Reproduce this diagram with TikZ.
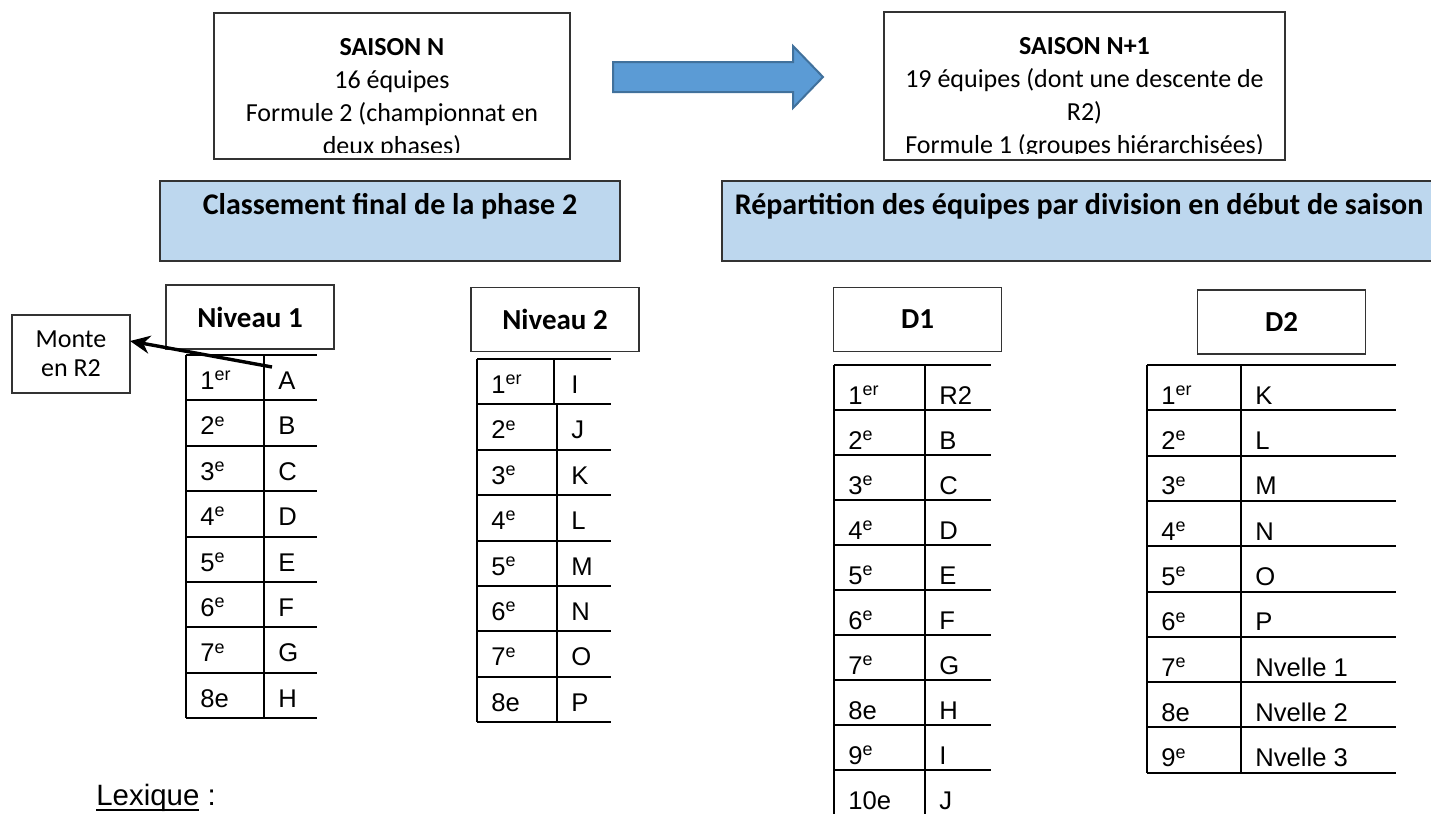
\documentclass[tikz,border=0pt]{standalone}
\usepackage{fontspec}
\setmainfont{Carlito}
\newfontfamily\arialfont{Liberation Sans}
\usepackage{xcolor}
\usetikzlibrary{positioning,calc,arrows.meta}

\definecolor{bandblue}{HTML}{BDD7EE}
\definecolor{arrowfill}{HTML}{5B9BD5}
\definecolor{arrowline}{HTML}{41719C}

\begin{document}
\begin{tikzpicture}[
    x=0.5pt, y=-0.5pt,
    infobox/.style={rectangle, draw=black!80, line width=0.7pt, inner sep=0pt},
    boxtext/.style={align=center, inner sep=0pt, font=\fontsize{13}{16.5}\selectfont},
    band/.style={rectangle, draw=black!80, fill=bandblue, line width=0.7pt, minimum height=40pt,
        inner ysep=0pt, text height=16.5pt, text depth=23.5pt, font=\bfseries\fontsize{15}{17}\selectfont},
    headbox/.style={rectangle, draw=black!80, line width=0.7pt, minimum width=84pt, minimum height=32pt,
        font=\bfseries\fontsize{14.5}{17}\selectfont},
    cell/.style={anchor=base west, inner sep=0pt, font=\arialfont\fontsize{12.8}{15}\selectfont},
    grid/.style={line width=1pt, black},
    arrow/.style={-{Stealth[length=10pt, width=9pt]}, line width=1.7pt}
]
    \useasboundingbox (0,0) rectangle (1431,814);

    % season boxes
    \node[infobox, minimum width=178pt, minimum height=73pt] (saisonN) at (392,86) {};
    \node[infobox, minimum width=200.5pt, minimum height=74pt] (saisonNext) at (1084.5,86) {};
    \begin{scope}
        \clip ($(saisonN.south west)+(0,-7)$) rectangle (saisonN.north east);
        \node[boxtext, below=13pt of saisonN.north] (saisonNtxt)
            {\textbf{SAISON N}\\16 équipes\\Formule 2 (championnat en\\deux phases)};
    \end{scope}
    \begin{scope}
        \clip ($(saisonNext.south west)+(0,-7)$) rectangle (saisonNext.north east);
        \node[boxtext, below=13pt of saisonNext.north] (saisonNexttxt)
            {\textbf{SAISON N+1}\\19 équipes (dont une descente de\\R2)\\Formule 1 (groupes hiérarchisées)};
    \end{scope}
    \draw[fill=arrowfill, draw=arrowline, line width=1pt]
        (613,62) -- (793,62) -- (793,46) -- (823,77) -- (793,108) -- (793,92) -- (613,92) -- cycle;

    % bands
    \node[band, minimum width=230pt] (bandClass) at (390,221) {Classement final de la phase 2};
    \node[band, minimum width=357pt] (bandRepart) at (1079,221) {Répartition des équipes par division en début de saison};

    % headers
    \node[headbox] (niv1) at (250,317) {Niveau 1};
    \node[headbox] (niv2) at (555,319.5) {Niveau 2};
    \node[headbox] (divOne) at (917.5,319.5) {D1};
    \node[headbox] (divTwo) at (1281.5,322) {D2};

    % Niveau 1
    \foreach \i in {0,...,8}
        \draw[grid] (186,{355+45.4*\i}) -- (317,{355+45.4*\i});
    \draw[grid] (186,355) -- (186,718) (264,355) -- (264,718);
    \foreach \r/\t [count=\i] in {{1\textsuperscript{er}}/A, {2\textsuperscript{e}}/B, {3\textsuperscript{e}}/C,
        {4\textsuperscript{e}}/D, {5\textsuperscript{e}}/E, {6\textsuperscript{e}}/F, {7\textsuperscript{e}}/G, 8e/H} {
        \node[cell] (n1r\i) at (200,{355+45.4*\i-11}) {\r};
        \node[cell] (n1t\i) at (278,{355+45.4*\i-11}) {\t};
    }

    % Niveau 2
    \foreach \i in {0,...,8}
        \draw[grid] (477,{359+45.4*\i}) -- (611,{359+45.4*\i});
    \draw[grid] (477,359) -- (477,722) (554,359) -- (554,404.4) (557,404.4) -- (557,722);
    \foreach \r/\t [count=\i] in {{1\textsuperscript{er}}/I, {2\textsuperscript{e}}/J, {3\textsuperscript{e}}/K,
        {4\textsuperscript{e}}/L, {5\textsuperscript{e}}/M, {6\textsuperscript{e}}/N, {7\textsuperscript{e}}/O, 8e/P} {
        \node[cell] (n2r\i) at (491,{359+45.4*\i-11}) {\r};
        \node[cell] (n2t\i) at (571,{359+45.4*\i-11}) {\t};
    }

    % D1
    \foreach \i in {0,...,9}
        \draw[grid] (834,{365+45*\i}) -- (991,{365+45*\i});
    \draw[grid] (834,365) -- (834,820) (925,365) -- (925,820);
    \foreach \r/\t [count=\i] in {{1\textsuperscript{er}}/R2, {2\textsuperscript{e}}/B, {3\textsuperscript{e}}/C,
        {4\textsuperscript{e}}/D, {5\textsuperscript{e}}/E, {6\textsuperscript{e}}/F, {7\textsuperscript{e}}/G, 8e/H,
        {9\textsuperscript{e}}/I, 10e/J} {
        \node[cell] (d1r\i) at (848,{365+45*\i-6}) {\r};
        \node[cell] (d1t\i) at (939,{365+45*\i-6}) {\t};
    }

    % D2
    \foreach \i in {0,...,9}
        \draw[grid] (1147,{365+45.3*\i}) -- (1396,{365+45.3*\i});
    \draw[grid] (1147,365) -- (1147,773) (1241,365) -- (1241,773);
    \foreach \r/\t [count=\i] in {{1\textsuperscript{er}}/K, {2\textsuperscript{e}}/L, {3\textsuperscript{e}}/M,
        {4\textsuperscript{e}}/N, {5\textsuperscript{e}}/O, {6\textsuperscript{e}}/P, {7\textsuperscript{e}}/Nvelle 1,
        8e/Nvelle 2, {9\textsuperscript{e}}/Nvelle 3} {
        \node[cell] (d2r\i) at (1161,{365+45.3*\i-6}) {\r};
        \node[cell] (d2t\i) at (1255,{365+45.3*\i-6}) {\t};
    }

    % promotion
    \node[infobox, minimum width=59pt, minimum height=39pt, align=center,
        font=\fontsize{13}{14.5}\selectfont] (monte) at (71,354) {Monte\\en R2};
    \coordinate (firstA) at (272,367);
    \coordinate (monteTip) at (130,341);
    \draw[arrow] (firstA) -- (monteTip);

    \node[cell, font=\arialfont\fontsize{14.7}{17}\selectfont] (lexique) at (96,805)
        {\setbox0\hbox{Lexique}\rlap{\rule[-3pt]{\wd0}{1.1pt}}\box0\ :};
\end{tikzpicture}
\end{document}
